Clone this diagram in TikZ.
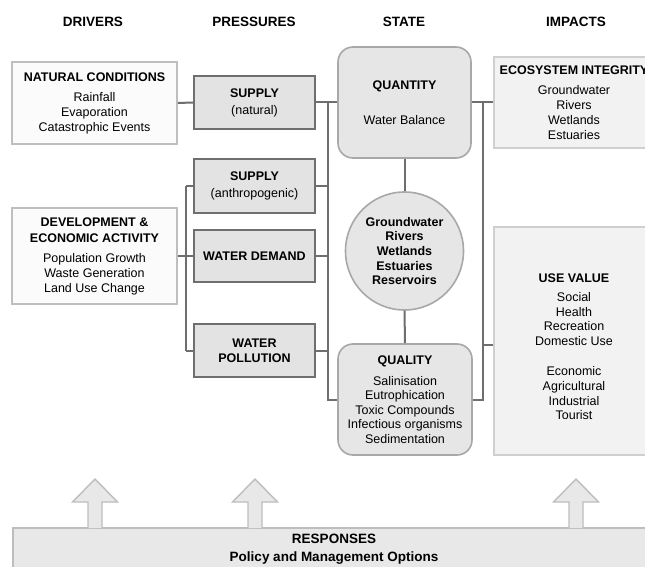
\documentclass[tikz,border=0pt]{standalone}
\usepackage{fontspec}
\setmainfont{Liberation Sans}
\newcommand\fsn{\fontsize{12.5}{15}\selectfont}
\newcommand\fsh{\fontsize{13.5}{16}\selectfont\bfseries}
\definecolor{connc}{HTML}{6E6E6E}
\definecolor{drvline}{HTML}{BFBFBF}
\definecolor{drvfill}{HTML}{FBFBFB}
\definecolor{prsline}{HTML}{6F6F6F}
\definecolor{prsfill}{HTML}{E3E3E3}
\definecolor{stline}{HTML}{A8A8A8}
\definecolor{stfill}{HTML}{E6E6E6}
\definecolor{impline}{HTML}{CFCFCF}
\definecolor{impfill}{HTML}{F2F2F2}
\definecolor{arrline}{HTML}{BDBDBD}
\definecolor{arrfill}{HTML}{E8E8E8}
\tikzset{
  every node/.style={font=\fsn, text=black},
  header/.style={font=\fsh},
  drvbox/.style={draw=drvline, fill=drvfill, line width=1.6pt, inner sep=0pt, minimum width=165pt, align=center},
  prsbox/.style={draw=prsline, fill=prsfill, line width=1.6pt, inner sep=0pt, minimum width=121pt, align=center},
  stbox/.style={draw=stline, fill=stfill, line width=1.6pt, inner sep=0pt, rounded corners=15pt, align=center},
  stcirc/.style={draw=stline, fill=stfill, line width=1.6pt, circle, inner sep=0pt, minimum size=118pt, align=center, font=\fontsize{12.5}{14.7}\selectfont\bfseries},
  impbox/.style={draw=impline, fill=impfill, line width=1.6pt, inner sep=0pt, minimum width=160pt, align=center},
  respbox/.style={draw=arrline, fill=arrfill, line width=1.6pt, inner sep=0pt},
  uparrow/.style={draw=arrline, fill=arrfill, line width=1.4pt, line join=miter},
  conn/.style={draw=connc, line width=2pt},
}
\begin{document}
\begin{tikzpicture}[x=1pt,y=-1pt]
\useasboundingbox (0,0) rectangle (645,567);
\clip (0,0) rectangle (645,567);
\fill[white] (0,0) rectangle (645,567);

% headers
\node[header] (hdrv) at (93,22) {DRIVERS};
\node[header] (hprs) at (254,22) {PRESSURES};
\node[header] (hst) at (404,22) {STATE};
\node[header] (himp) at (576,22) {IMPACTS};

% drivers
\node[drvbox, minimum height=82pt] (nat) at (94.5,103)
  {\textbf{NATURAL CONDITIONS}\\[5pt]Rainfall\\Evaporation\\Catastrophic Events};
\node[drvbox, minimum height=96pt] (dev) at (94.5,256)
  {\textbf{DEVELOPMENT \&}\\[1pt]\textbf{ECONOMIC ACTIVITY}\\[5pt]Population Growth\\Waste Generation\\Land Use Change};

% pressures
\node[prsbox, minimum height=53pt] (sn) at (254.5,102.5) {\textbf{SUPPLY}\\[2pt](natural)};
\node[prsbox, minimum height=54pt] (sa) at (254.5,186) {\textbf{SUPPLY}\\[2pt](anthropogenic)};
\node[prsbox, minimum height=52pt] (wd) at (254.5,256) {\textbf{WATER DEMAND}};
\node[prsbox, minimum height=53pt] (wp) at (254.5,350.5) {\textbf{WATER}\\\textbf{POLLUTION}};

% state
\node[stbox, minimum width=133pt, minimum height=111pt] (qt) at (404.5,102.5)
  {\textbf{QUANTITY}\\[20pt]Water Balance};
\node[stcirc] (wb) at (404.5,251) {Groundwater\\Rivers\\Wetlands\\Estuaries\\Reservoirs};
\node[stbox, minimum width=134pt, minimum height=111pt, font=\fontsize{12.5}{14.5}\selectfont] (ql) at (405,399.5)
  {\textbf{QUALITY}\\[6.5pt]Salinisation\\Eutrophication\\Toxic Compounds\\Infectious organisms\\Sedimentation};

% impacts
\node[impbox, minimum height=91pt] (eco) at (574,102.5)
  {\textbf{ECOSYSTEM INTEGRITY}\\[5pt]Groundwater\\Rivers\\Wetlands\\Estuaries};
\node[impbox, minimum height=228pt] (uv) at (574,341) {};
\node[align=center, inner sep=0pt, font=\fontsize{12.5}{14.6}\selectfont] (uvtext) at (574,347)
  {\textbf{USE VALUE}\\[4pt]Social\\Health\\Recreation\\Domestic Use\\[16pt]Economic\\Agricultural\\Industrial\\Tourist};

% responses
\node[respbox, minimum width=642pt, minimum height=80pt] (resp) at (334,568) {};
\node[align=center, inner sep=0pt, font=\fontsize{13.5}{18}\selectfont\bfseries] (resptext) at (334,549)
  {RESPONSES\\Policy and Management Options};

% up arrows
\foreach \ax/\nm in {95/a1, 255/a2, 576/a3}{
  \coordinate (\nm) at (\ax,528);
  \draw[uparrow] (\ax-7,528) -- (\ax-7,502) -- (\ax-22.5,502) -- (\ax,479)
     -- (\ax+22.5,502) -- (\ax+7,502) -- (\ax+7,528);
}

% junction coordinates
\coordinate (jl) at (186,0);
\coordinate (jm) at (328,0);
\coordinate (jr) at (483,0);

% drivers -> pressures
\draw[conn] (nat.east) -- (sn.west);
\draw[conn] (dev.east) -- (dev.east -| jl);
\draw[conn] (sa.west -| jl) -- (wp.west -| jl);
\draw[conn] (sa.west -| jl) -- (sa.west);
\draw[conn] (wd.west -| jl) -- (wd.west);
\draw[conn] (wp.west -| jl) -- (wp.west);

% pressures -> state
\draw[conn] (sn.east) -- (qt.west);
\draw[conn] (sa.east) -- (sa.east -| jm);
\draw[conn] (wd.east) -- (wd.east -| jm);
\draw[conn] (wp.east) -- (wp.east -| jm);
\draw[conn] (sn.east -| jm) -- (ql.west -| jm) -- (ql.west);

% state internal
\draw[conn] (qt.south) -- (wb.north);
\draw[conn] (wb.south) -- (ql.north);

% state -> impacts
\draw[conn] (qt.east) -- (eco.west);
\draw[conn] (qt.east -| jr) -- (ql.east -| jr) -- (ql.east);
\coordinate (uvin) at ([yshift=-4pt]uv.west);
\draw[conn] (uvin -| jr) -- (uvin);
\end{tikzpicture}
\end{document}
